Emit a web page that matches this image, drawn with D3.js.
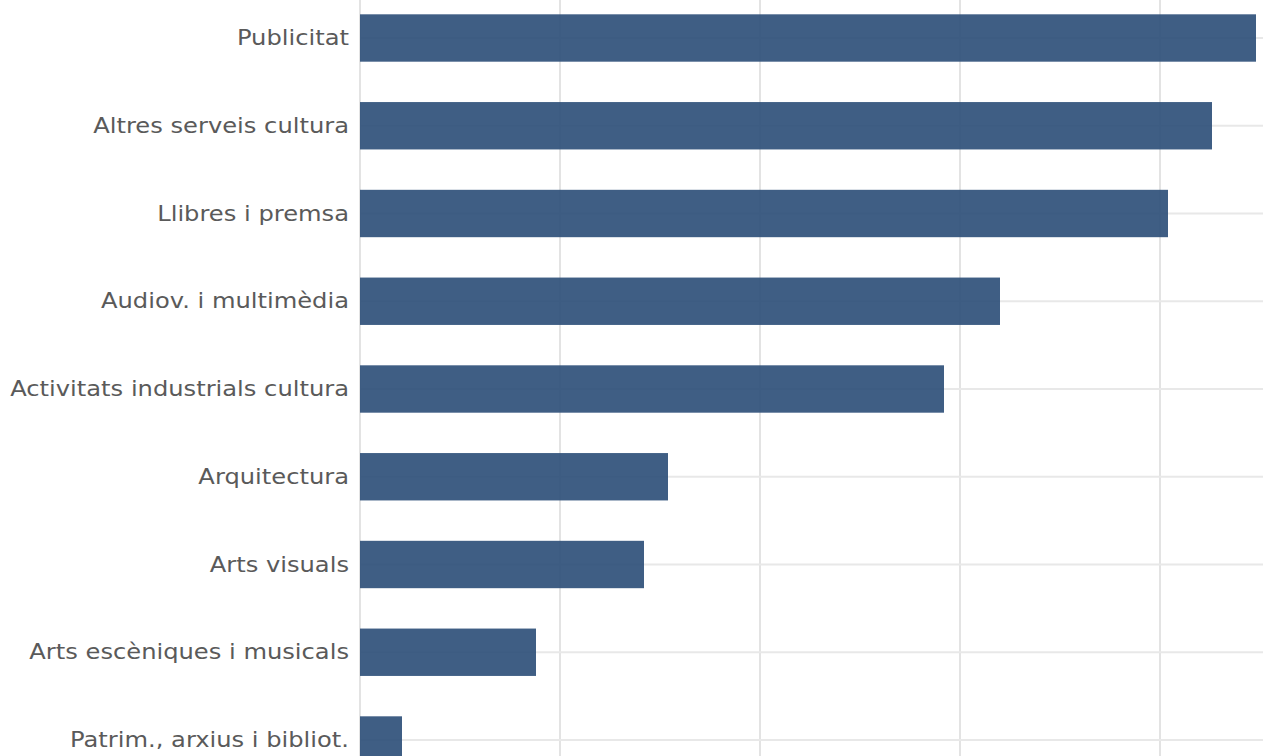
<!DOCTYPE html>
<html>
<head>
<meta charset="utf-8">
<script src="https://cdn.jsdelivr.net/npm/d3@7"></script>
<style>
  body { margin: 0; background: #fff; }
  .label { font-family: "DejaVu Sans", Verdana, sans-serif; font-size: 20.5px; fill: #5a5a5a; }
</style>
</head>
<body>
<div id="chart"></div>
<script>
// categories, top to bottom
var categories = [
  "Publicitat",
  "Altres serveis cultura",
  "Llibres i premsa",
  "Audiov. i multimèdia",
  "Activitats industrials cultura",
  "Arquitectura",
  "Arts visuals",
  "Arts escèniques i musicals",
  "Patrim., arxius i bibliot."
];

// values
var values = [22.4, 21.3, 20.2, 16.0, 14.6, 7.7, 7.1, 4.4, 1.05];

// gridline positions
var gridTicks = [0, 5, 10, 15, 20];

var svgWidth = 1263;
var svgHeight = 756;

var data = categories.map(function(c, i) { return { name: c, value: values[i] }; });

var svg = d3.select("#chart")
  .append("svg")
  .attr("width", svgWidth)
  .attr("height", svgHeight);

var xScale = d3.scaleLinear()
  .domain([0, 22.575])
  .range([360, svgWidth]);

var step = 87.75;
var yScale = d3.scaleBand()
  .domain(categories)
  .range([38 - step / 2, 38 - step / 2 + step * categories.length])
  .paddingInner(0.46)
  .paddingOuter(0.23);

// vertical gridlines
svg.append("g")
  .selectAll("line")
  .data(gridTicks)
  .enter()
  .append("line")
  .attr("x1", d => xScale(d))
  .attr("x2", d => xScale(d))
  .attr("y1", 0)
  .attr("y2", svgHeight)
  .attr("stroke", "#e3e3e3")
  .attr("stroke-width", 2);

// horizontal gridlines at band centres
svg.append("g")
  .selectAll("line")
  .data(categories)
  .enter()
  .append("line")
  .attr("x1", xScale(0))
  .attr("x2", svgWidth)
  .attr("y1", d => yScale(d) + yScale.bandwidth() / 2)
  .attr("y2", d => yScale(d) + yScale.bandwidth() / 2)
  .attr("stroke", "#e8e8e8")
  .attr("stroke-width", 2);

// bars
svg.append("g")
  .selectAll("rect")
  .data(data)
  .enter()
  .append("rect")
  .attr("x", xScale(0))
  .attr("y", d => yScale(d.name))
  .attr("width", d => xScale(d.value) - xScale(0))
  .attr("height", yScale.bandwidth())
  .attr("fill", "#2a4d77")
  .attr("opacity", 0.9);

// category labels (source image is stretched sideways, so the text is too)
svg.append("g")
  .selectAll("text")
  .data(categories)
  .enter()
  .append("text")
  .attr("class", "label")
  .attr("transform", d => `translate(349, ${yScale(d) + yScale.bandwidth() / 2}) scale(1.18, 1)`)
  .attr("dy", "0.35em")
  .attr("text-anchor", "end")
  .text(d => d);
</script>
</body>
</html>
